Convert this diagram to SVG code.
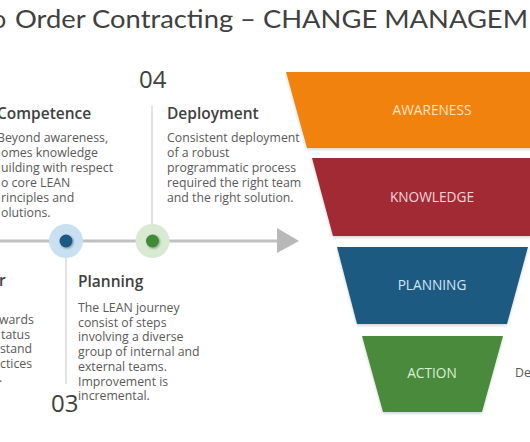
<svg xmlns="http://www.w3.org/2000/svg" width="530" height="442" viewBox="0 0 530 442">
<defs>
<style>
.title{font-family:Lato,"Open Sans","Liberation Sans",sans-serif;font-size:25px;fill:#404040}
.num{font-family:"Open Sans","Liberation Sans",sans-serif;font-size:24px;fill:#404040}
.hd{font-family:"Open Sans","Liberation Sans",sans-serif;font-size:15.5px;font-weight:600;fill:#404040}
.bd{font-family:"Open Sans","Liberation Sans",sans-serif;font-size:12.3px;fill:#595959}
.fl{font-family:"Open Sans","Liberation Sans",sans-serif;font-size:13.7px;text-anchor:middle}
.vline{stroke:#d9d9d9;stroke-width:1.5;fill:none}
</style>
<filter id="sh" x="-10%" y="-10%" width="120%" height="130%">
<feDropShadow dx="0" dy="1.5" stdDeviation="1.5" flood-color="#000" flood-opacity="0.18"/>
</filter>
<filter id="dsh" x="-50%" y="-50%" width="200%" height="200%">
<feDropShadow dx="1" dy="1" stdDeviation="0.8" flood-color="#000" flood-opacity="0.35"/>
</filter>
</defs>
<rect width="530" height="442" fill="#ffffff"/>
<g id="title">
<text class="title" y="28"><tspan x="-8">o</tspan><tspan x="15" textLength="513" lengthAdjust="spacingAndGlyphs">Order Contracting – CHANGE MANAGEM</tspan></text>
</g>
<g id="connectors">
<line x1="0" y1="241" x2="280" y2="241" stroke="#c0c0c0" stroke-width="3"/>
<polygon points="277,228 299,241 277,253" fill="#b8b8b8"/>
<line class="vline" x1="66" y1="258" x2="66" y2="384"/>
<line class="vline" x1="152" y1="106" x2="152" y2="224"/>
</g>
<g id="marker-planning">
<circle cx="66" cy="241" r="17" fill="#c9e0f2"/>
<circle cx="66" cy="241" r="6.5" fill="#1f5a86" filter="url(#dsh)"/>
</g>
<g id="marker-deployment">
<circle cx="152.5" cy="241" r="17" fill="#d8ead2"/>
<circle cx="152.5" cy="241" r="6.5" fill="#3f8a38" filter="url(#dsh)"/>
</g>
<g id="num-04"><text class="num" x="139" y="88">04</text></g>
<g id="num-03"><text class="num" x="51" y="412">03</text></g>
<g id="competence">
<text class="hd" x="-3" y="119">Competence</text>
<text class="bd" x="-3" y="142">Beyond awareness,</text>
<text class="bd" x="1" y="157">omes knowledge</text>
<text class="bd" x="1" y="172">uilding with respect</text>
<text class="bd" x="1" y="187">o core LEAN</text>
<text class="bd" x="1" y="202">rinciples and</text>
<text class="bd" x="1" y="217">olutions.</text>
</g>
<g id="deployment">
<text class="hd" x="167" y="119">Deployment</text>
<text class="bd" x="167" y="142">Consistent deployment</text>
<text class="bd" x="167" y="157">of a robust</text>
<text class="bd" x="167" y="172">programmatic process</text>
<text class="bd" x="167" y="187">required the right team</text>
<text class="bd" x="167" y="202">and the right solution.</text>
</g>
<g id="left-bottom">
<text class="hd" x="-1" y="286">r</text>
<text class="bd" x="-1" y="324">wards</text>
<text class="bd" x="1" y="339">tatus</text>
<text class="bd" x="0" y="353">stand</text>
<text class="bd" x="0" y="368">ctices</text>
<text class="bd" x="-1" y="382">.</text>
</g>
<g id="planning">
<text class="hd" x="78" y="287">Planning</text>
<text class="bd" x="78" y="312">The LEAN journey</text>
<text class="bd" x="78" y="327">consist of steps</text>
<text class="bd" x="78" y="341">involving a diverse</text>
<text class="bd" x="78" y="356">group of internal and</text>
<text class="bd" x="78" y="371">external teams.</text>
<text class="bd" x="78" y="386">Improvement is</text>
<text class="bd" x="78" y="400">incremental.</text>
</g>
<g id="funnel-awareness">
<polygon points="286,72 578,72 557,148 307,148" fill="#f0820f" filter="url(#sh)"/>
<text class="fl" x="432" y="115" fill="#fde3c4">AWARENESS</text>
</g>
<g id="funnel-knowledge">
<polygon points="312,158 552,158 531,236 333,236" fill="#a12a36" filter="url(#sh)"/>
<text class="fl" x="432" y="202" fill="#f6d6da">KNOWLEDGE</text>
</g>
<g id="funnel-planning">
<polygon points="337,247 528,247 507,324 357,324" fill="#1e5a82" filter="url(#sh)"/>
<text class="fl" x="432" y="290" fill="#d2e6f5">PLANNING</text>
</g>
<g id="funnel-action">
<polygon points="362,336 503,336 482,412 383,412" fill="#4a8a3e" filter="url(#sh)"/>
<text class="fl" x="432" y="378" fill="#dcefd6">ACTION</text>
</g>
<g id="side-label"><text class="bd" x="515" y="377">De</text></g>
</svg>
